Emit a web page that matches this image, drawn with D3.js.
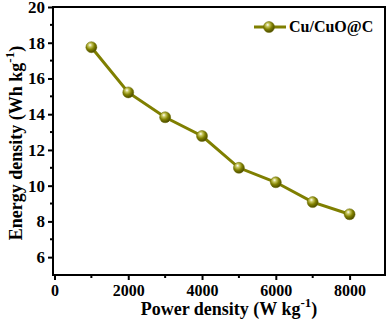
<!DOCTYPE html>
<html><head><meta charset="utf-8">
<script src="https://cdn.jsdelivr.net/npm/d3@7"></script>
<style>
body{margin:0;background:#fff;}
</style></head>
<body><svg id="c" width="390" height="324"></svg>
<script>
const powerDensity = [1000, 2000, 3000, 4000, 5000, 6000, 7000, 8000];
const energyDensity = [17.75, 15.22, 13.83, 12.78, 11.0, 10.19, 9.08, 8.4];
const seriesName = "Cu/CuO@C";
const xTicks = [0, 2000, 4000, 6000, 8000];
const yTicks = [6, 8, 10, 12, 14, 16, 18, 20];

const FF = "Liberation Serif";
const svg = d3.select("#c");
const L = 53, R = 385, T = 7, B = 275;
const x = d3.scaleLinear().domain([-40, 8960]).range([L, R]);
const y = d3.scaleLinear().domain([5, 20]).range([B, T]);
const color = "#7f7f00";

const defs = svg.append("defs");
const g = defs.append("radialGradient").attr("id","ball").attr("cx","0.4").attr("cy","0.35").attr("r","0.65").attr("fx","0.38").attr("fy","0.3");
g.append("stop").attr("offset","0").attr("stop-color","#ffffff");
g.append("stop").attr("offset","0.25").attr("stop-color","#c8c860");
g.append("stop").attr("offset","0.6").attr("stop-color","#808000");
g.append("stop").attr("offset","1").attr("stop-color","#4a4a00");

// frame
svg.append("rect").attr("x",L).attr("y",T).attr("width",R-L).attr("height",B-T)
  .attr("fill","none").attr("stroke","#000").attr("stroke-width",2);

// x axis
const xAxis = d3.axisBottom(x).tickValues(xTicks).tickSize(5).tickPadding(5).tickFormat(d3.format("d"));
const xa = svg.append("g").attr("transform",`translate(0,${B})`).call(xAxis)
  .attr("font-family",FF).attr("font-weight","bold").attr("font-size",16);
xa.select(".domain").remove();
xa.selectAll(".tick line").attr("stroke-width",2);
xa.selectAll("text").attr("fill","#000");
const xMinor = d3.range(1000, 9000, 2000);
svg.append("g").selectAll("line").data(xMinor).join("line")
  .attr("x1",d=>x(d)).attr("x2",d=>x(d)).attr("y1",B).attr("y2",B+3).attr("stroke","#000").attr("stroke-width",2);

// y axis
const yAxis = d3.axisLeft(y).tickValues(yTicks).tickSize(5).tickPadding(3);
const ya = svg.append("g").attr("transform",`translate(${L},0)`).call(yAxis)
  .attr("font-family",FF).attr("font-weight","bold").attr("font-size",17);
ya.select(".domain").remove();
ya.selectAll(".tick line").attr("stroke-width",2);
ya.selectAll("text").attr("fill","#000");
const yMinor = d3.range(7, 20, 2);
svg.append("g").selectAll("line").data(yMinor).join("line")
  .attr("x1",L).attr("x2",L-3).attr("y1",d=>y(d)).attr("y2",d=>y(d)).attr("stroke","#000").attr("stroke-width",2);

// labels
const xl = svg.append("text").attr("x",(L+R)/2+10).attr("y",315).attr("text-anchor","middle")
  .attr("font-family",FF).attr("font-weight","bold").attr("font-size",18);
xl.append("tspan").text("Power density (W kg");
xl.append("tspan").attr("dy",-8).attr("font-size",13).text("-1");
xl.append("tspan").attr("dy",8).text(")");

const yl = svg.append("text").attr("transform","translate(22,143) rotate(-90)").attr("text-anchor","middle")
  .attr("font-family",FF).attr("font-weight","bold").attr("font-size",18);
yl.append("tspan").text("Energy density  (Wh kg");
yl.append("tspan").attr("dy",-8).attr("font-size",13).text("-1");
yl.append("tspan").attr("dy",8).text(")");

// line
const data = powerDensity.map((p,i)=>({p, e: energyDensity[i]}));
svg.append("path").datum(data)
  .attr("d", d3.line().x(d=>x(d.p)).y(d=>y(d.e)))
  .attr("fill","none").attr("stroke",color).attr("stroke-width",3);
svg.append("g").selectAll("circle").data(data).join("circle")
  .attr("cx",d=>x(d.p)).attr("cy",d=>y(d.e)).attr("r",5.5)
  .attr("fill","url(#ball)").attr("stroke","#6a6a00").attr("stroke-width",0.5);

// legend
svg.append("line").attr("x1",254).attr("x2",286).attr("y1",27).attr("y2",27).attr("stroke",color).attr("stroke-width",3);
svg.append("circle").attr("cx",269).attr("cy",27).attr("r",5.5).attr("fill","url(#ball)").attr("stroke","#6a6a00").attr("stroke-width",0.5);
svg.append("text").attr("x",289).attr("y",32).attr("font-family",FF).attr("font-weight","bold").attr("font-size",16).text(seriesName);
</script></body></html>
